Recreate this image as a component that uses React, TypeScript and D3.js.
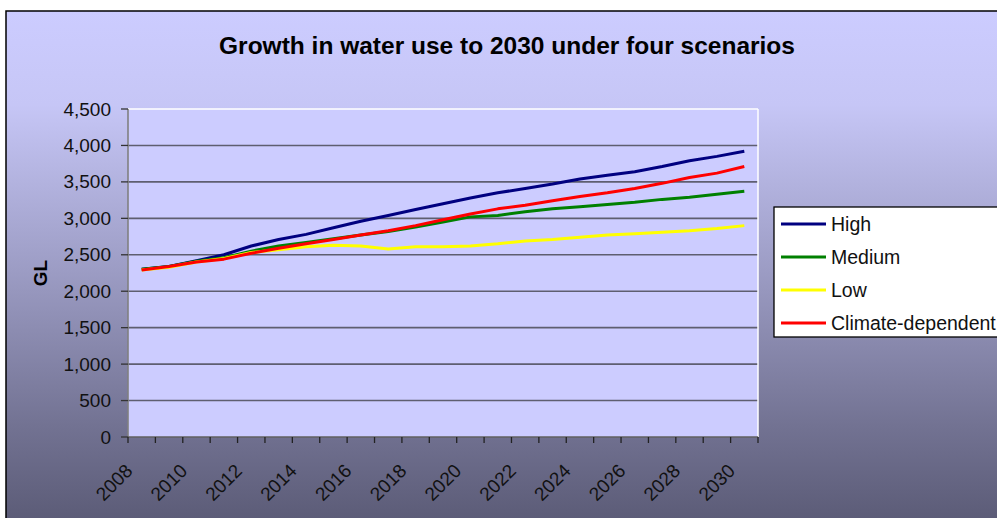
import React from "react";
import * as d3 from "d3";

const years = d3.range(2008, 2031).map(String);
const yTicks = [0, 500, 1000, 1500, 2000, 2500, 3000, 3500, 4000, 4500];
const xLabelYears = ["2008", "2010", "2012", "2014", "2016", "2018", "2020", "2022", "2024", "2026", "2028", "2030"];

const high = [2300, 2340, 2420, 2500, 2620, 2710, 2780, 2870, 2960, 3040, 3120, 3200, 3280, 3350, 3410, 3470, 3540, 3590, 3640, 3710, 3790, 3850, 3920];
const medium = [2300, 2340, 2410, 2460, 2550, 2620, 2670, 2720, 2770, 2820, 2880, 2950, 3020, 3040, 3090, 3130, 3160, 3190, 3220, 3260, 3290, 3330, 3370];
const low = [2290, 2330, 2400, 2450, 2530, 2570, 2610, 2630, 2620, 2580, 2610, 2610, 2620, 2650, 2690, 2710, 2740, 2770, 2790, 2810, 2830, 2860, 2900];
const climate = [2290, 2340, 2400, 2440, 2520, 2590, 2650, 2710, 2770, 2830, 2900, 2980, 3060, 3130, 3180, 3240, 3300, 3350, 3410, 3480, 3560, 3620, 3710];

const seriesNames = ["High", "Medium", "Low", "Climate-dependent"];
const seriesColors = ["#000080", "#008000", "#FFFF00", "#FF0000"];
const seriesData = [high, medium, low, climate];

const FONT = "'Liberation Sans', Arial, sans-serif";

export default function App() {
  const left = 128, right = 758, top = 109, bottom = 437;
  const x = d3.scaleBand<string>().domain(years).range([left, right]);
  const y = d3.scaleLinear().domain([0, 4500]).range([bottom, top]);
  const line = d3.line<number>()
    .x((_, i) => (x(years[i]) as number) + x.bandwidth() / 2)
    .y((d) => y(d));

  const tickXs = years.map((yr) => x(yr) as number).concat([right]);

  return (
    <svg width={997} height={518} style={{ position: "absolute", left: 0, top: 0 }} fontFamily={FONT}>
      <defs>
        <linearGradient id="bg" x1="0" y1="0" x2="0" y2="1">
          <stop offset="0%" stopColor="#ccccff" />
          <stop offset="18%" stopColor="#c6c6f6" />
          <stop offset="50%" stopColor="#9c9cc4" />
          <stop offset="80%" stopColor="#727292" />
          <stop offset="100%" stopColor="#595974" />
        </linearGradient>
      </defs>
      <rect x={0} y={0} width={997} height={518} fill="#ffffff" />
      <rect x={6} y={11} width={1000} height={520} fill="url(#bg)" stroke="#000" strokeWidth={1.5} />

      <text x={507} y={54} textAnchor="middle" fontWeight="bold" fontSize={24.5}>
        Growth in water use to 2030 under four scenarios
      </text>

      <rect x={left} y={top} width={right - left} height={bottom - top} fill="#ccccff" />
      {yTicks.filter((t) => t > 0 && t < 4500).map((t) => (
        <line key={t} x1={left} x2={right} y1={y(t)} y2={y(t)} stroke="#5e5e70" strokeWidth={1.6} />
      ))}
      <line x1={left} x2={right} y1={top} y2={top} stroke="#ffffff" strokeWidth={1.5} />
      <line x1={right} x2={right} y1={top} y2={bottom} stroke="#ffffff" strokeWidth={1.5} />

      {/* y axis */}
      <line x1={left} x2={left} y1={top} y2={bottom} stroke="#808080" strokeWidth={1.6} />
      {yTicks.map((t) => (
        <g key={t}>
          <line x1={left - 7} x2={left} y1={y(t)} y2={y(t)} stroke="#333" strokeWidth={1.3} />
          <text x={111} y={y(t) + 6.5} textAnchor="end" fontSize={19} fill="#111">
            {d3.format(",")(t)}
          </text>
        </g>
      ))}
      <text transform={`translate(47,${(top + bottom) / 2}) rotate(-90)`} textAnchor="middle" fontWeight="bold" fontSize={19}>
        GL
      </text>

      {/* x axis */}
      <line x1={left} x2={right} y1={bottom} y2={bottom} stroke="#606060" strokeWidth={1.6} />
      {tickXs.map((tx, i) => (
        <line key={i} x1={tx} x2={tx} y1={bottom} y2={bottom + 6} stroke="#222" strokeWidth={1.3} />
      ))}
      {xLabelYears.map((yr) => {
        const cx = (x(yr) as number) + x.bandwidth() / 2;
        return (
          <text key={yr} transform={`translate(${cx - 8},${472}) rotate(-45)`} textAnchor="end" fontSize={19} fill="#111">
            {yr}
          </text>
        );
      })}

      {/* lines */}
      {seriesData.map((d, i) => (
        <path key={i} d={line(d) || ""} fill="none" stroke={seriesColors[i]} strokeWidth={3} strokeLinejoin="round" />
      ))}

      {/* legend */}
      <rect x={774} y={207} width={240} height={130} fill="#ffffff" stroke="#000" strokeWidth={1.3} />
      {seriesNames.map((n, i) => {
        const ly = 224 + i * 33;
        return (
          <g key={n}>
            <line x1={781} x2={826} y1={ly} y2={ly} stroke={seriesColors[i]} strokeWidth={3} />
            <text x={831} y={ly + 7} fontSize={19.5} fill="#111">{n}</text>
          </g>
        );
      })}
    </svg>
  );
}
